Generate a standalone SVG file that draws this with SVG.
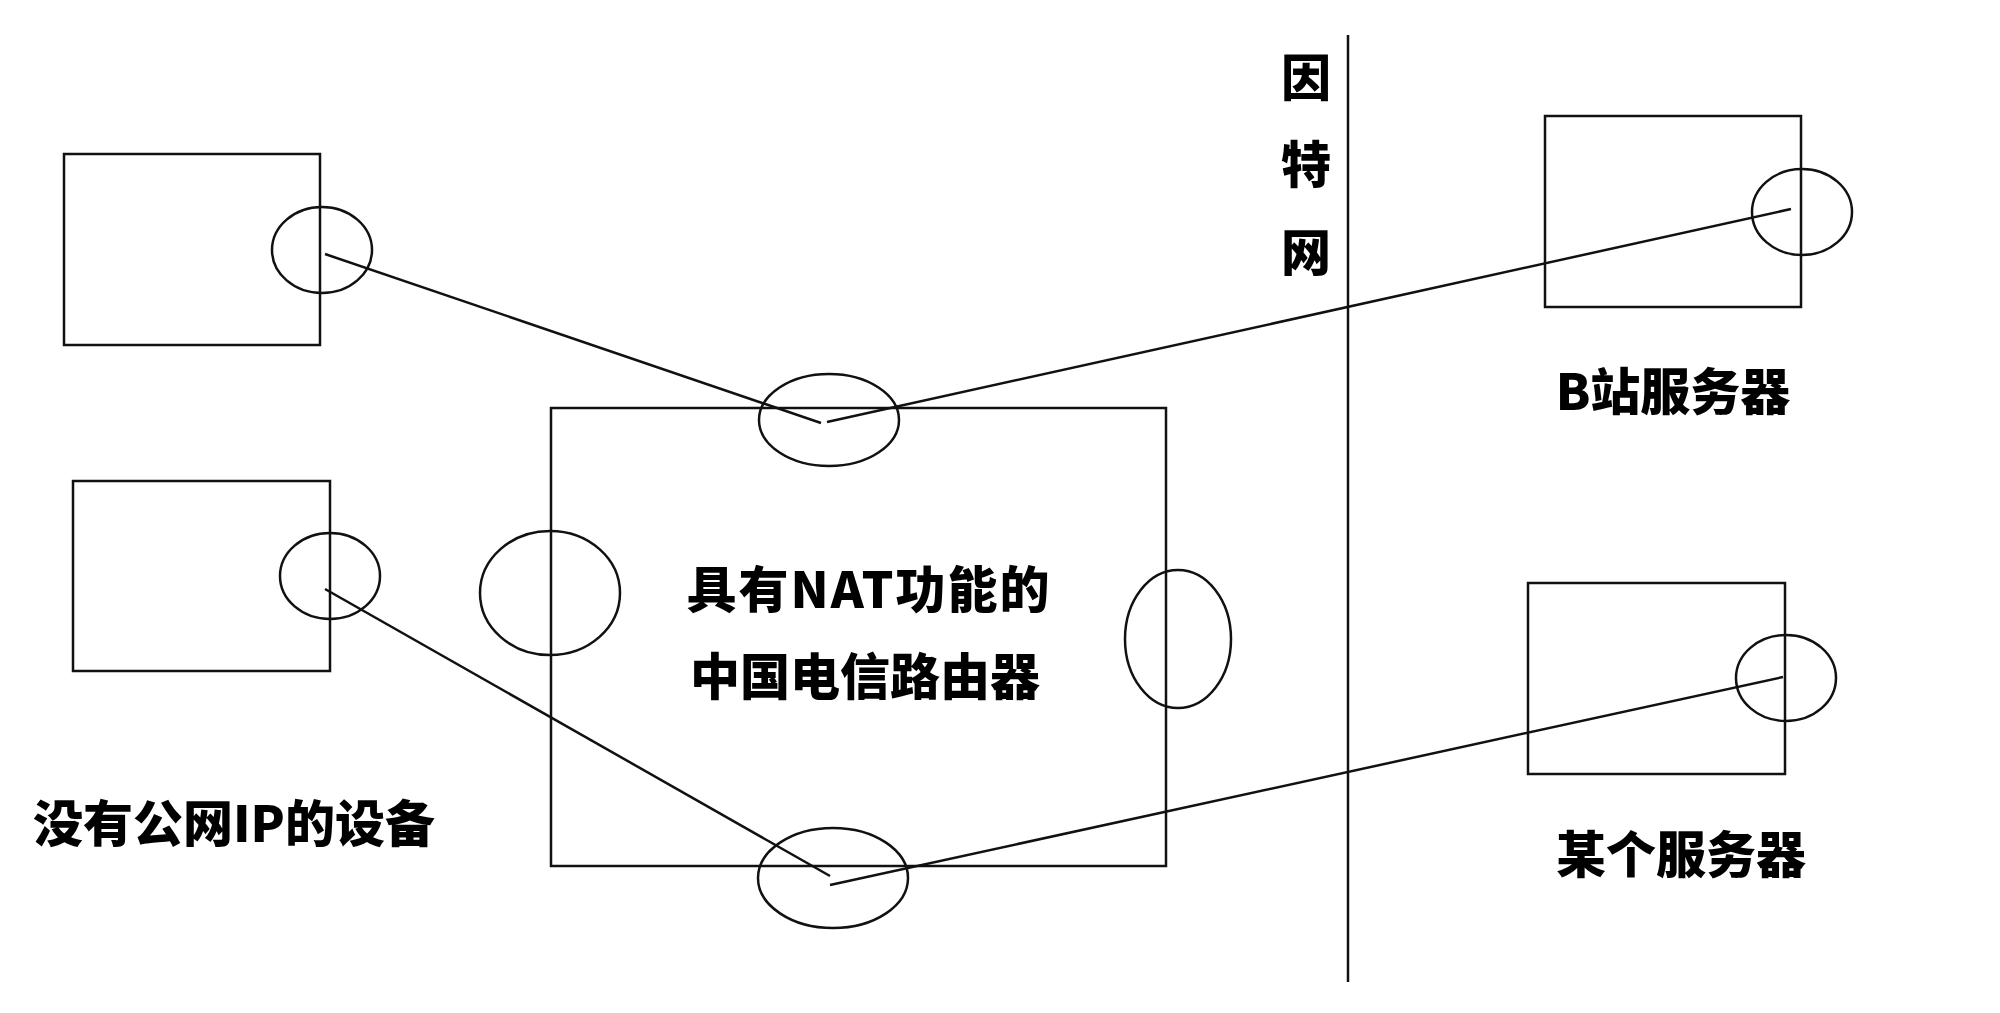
<svg xmlns="http://www.w3.org/2000/svg" width="2000" height="1013" viewBox="0 0 2000 1013">
<style>
.box{fill:none;stroke:#111;stroke-width:2.5}
.port{fill:none;stroke:#111;stroke-width:2.5}
.conn{fill:none;stroke:#111;stroke-width:2.5}
.lbl{font-family:"Noto Sans CJK SC","Noto Sans",sans-serif;font-weight:900;font-size:50px;fill:#000;text-anchor:middle;dominant-baseline:central}
</style>
<rect width="2000" height="1013" fill="#fff"/>
<g id="device1">
<rect class="box" x="64" y="154" width="256" height="191"/>
<ellipse class="port" cx="322" cy="250" rx="50" ry="43"/>
</g>
<g id="device2">
<rect class="box" x="73" y="481" width="257" height="190"/>
<ellipse class="port" cx="330" cy="576" rx="50" ry="43"/>
<text class="lbl" x="234" y="820">没有公网IP的设备</text>
</g>
<g id="router">
<rect class="box" x="551" y="408" width="615" height="458"/>
<ellipse class="port" cx="829" cy="420" rx="70" ry="46"/>
<ellipse class="port" cx="550" cy="593" rx="70" ry="62"/>
<ellipse class="port" cx="1178" cy="639" rx="53" ry="69"/>
<ellipse class="port" cx="833" cy="878" rx="75" ry="50"/>
<text class="lbl" x="869" y="586" letter-spacing="2">具有NAT功能的</text>
<text class="lbl" x="865" y="673">中国电信路由器</text>
</g>
<g id="internet">
<line class="conn" x1="1348" y1="35" x2="1348" y2="982"/>
<text class="lbl" x="1306" y="74">因</text>
<text class="lbl" x="1306" y="161">特</text>
<text class="lbl" x="1306" y="249">网</text>
</g>
<g id="bserver">
<rect class="box" x="1545" y="116" width="256" height="191"/>
<ellipse class="port" cx="1802" cy="212" rx="50" ry="43"/>
<text class="lbl" x="1673" y="388">B站服务器</text>
</g>
<g id="server">
<rect class="box" x="1528" y="583" width="257" height="191"/>
<ellipse class="port" cx="1786" cy="678" rx="50" ry="43"/>
<text class="lbl" x="1681" y="851">某个服务器</text>
</g>
<g id="connectors">
<polyline class="conn" points="325,254 821,423"/>
<polyline class="conn" points="827,422 1791,209"/>
<polyline class="conn" points="325,589 830,876"/>
<polyline class="conn" points="830,885 1783,677"/>
</g>
</svg>
